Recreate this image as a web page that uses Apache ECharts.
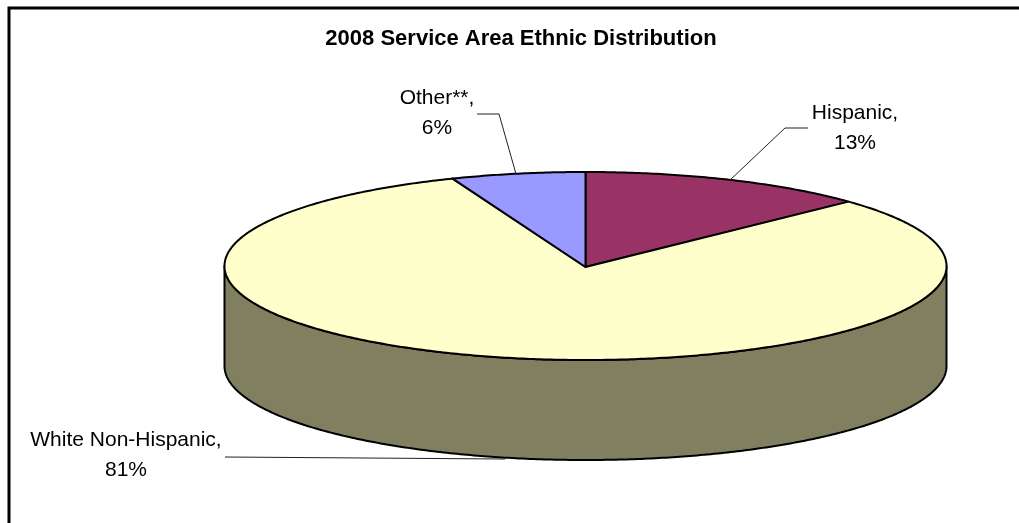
<!DOCTYPE html>
<html>
<head>
<meta charset="utf-8">
<style>html,body{margin:0;padding:0;background:#fff}#c{width:1019px;height:523px}</style>
<script src="https://cdn.jsdelivr.net/npm/echarts@6/dist/echarts.min.js"></script>
</head>
<body>
<div id="c"></div>
<script>
var categories = ['Hispanic', 'White Non-Hispanic', 'Other**'];
var values = [13, 81, 6];
var topColors = ['#993366', '#FFFFCC', '#9999FF'];
var sideColors = ['#4d1a33', '#808060', '#4d4d80'];
var labelBoxes = [
  {x: 855, y: 128, guide: [[729, 181], [785, 128], [808, 128]]},
  {x: 126, y: 455, guide: [[505, 459], [225, 457]]},
  {x: 437, y: 113, guide: [[516, 174], [499, 114], [477, 114]]}
];
var CX = 585.5, CY = 266, RX = 361, RY = 94, DEPTH = 100;
var APEX = [585.5, 267];
var total = values.reduce(function (a, b) { return a + b; }, 0);

function pt(a, dy) {
  return [CX + RX * Math.sin(a), CY - RY * Math.cos(a) + (dy || 0)];
}
function arc(a0, a1, dy) {
  var n = Math.max(2, Math.ceil(Math.abs(a1 - a0) / 0.01)), out = [];
  for (var i = 0; i <= n; i++) out.push(pt(a0 + (a1 - a0) * i / n, dy));
  return out;
}
function startOf(i) {
  var s = 0;
  for (var k = 0; k < i; k++) s += values[k];
  return s / total * 2 * Math.PI;
}

var seriesData = categories.map(function (c, i) { return {name: c, value: values[i]}; });

function sideItem(params, api) {
  var i = params.dataIndex;
  var a0 = Math.max(startOf(i), Math.PI / 2);
  var a1 = Math.min(startOf(i) + api.value(0) / total * 2 * Math.PI, Math.PI * 1.5);
  if (a1 <= a0) return {type: 'group', children: []};
  var pts = arc(a0, a1, 0).concat(arc(a1, a0, DEPTH));
  return {
    type: 'polygon', shape: {points: pts},
    style: {fill: sideColors[i], stroke: '#000', lineWidth: 2, lineJoin: 'round'}
  };
}
function topItem(params, api) {
  var i = params.dataIndex;
  var a0 = startOf(i), a1 = a0 + api.value(0) / total * 2 * Math.PI;
  var pts = [APEX].concat(arc(a0, a1, 0));
  var box = labelBoxes[i];
  return {
    type: 'group',
    children: [
      {type: 'polygon', shape: {points: pts},
       style: {fill: topColors[i], stroke: '#000', lineWidth: 2, lineJoin: 'round'}},
      {type: 'polyline', z2: 5, shape: {points: box.guide},
       style: {fill: null, stroke: '#222', lineWidth: 1}},
      {type: 'text', z2: 6, style: {
        x: box.x, y: box.y, text: categories[i] + ',\n' + api.value(0) + '%',
        fill: '#000', font: '21px "Liberation Sans", Arial, sans-serif',
        lineHeight: 30, align: 'center', verticalAlign: 'middle'
      }}
    ]
  };
}

var chart = echarts.init(document.getElementById('c'), null, {renderer: 'canvas'});
chart.setOption({
  animation: false,
  backgroundColor: '#fff',
  title: {
    text: '2008 Service Area Ethnic Distribution',
    left: 521, top: 28, padding: 0, textAlign: 'center',
    textStyle: {fontFamily: '"Liberation Sans", Arial, sans-serif', fontSize: 22, fontWeight: 'bold', color: '#000'}
  },
  graphic: [{
    type: 'polyline', silent: true,
    shape: {points: [[9, 523], [9, 8], [1019, 8]]},
    style: {fill: null, stroke: '#000', lineWidth: 3}
  }],
  series: [
    {type: 'custom', coordinateSystem: 'none', silent: true, z: 2, data: seriesData, renderItem: sideItem,
     encode: {value: 0}},
    {type: 'custom', coordinateSystem: 'none', silent: true, z: 3, data: seriesData, renderItem: topItem,
     encode: {value: 0}}
  ]
});
</script>
</body>
</html>
